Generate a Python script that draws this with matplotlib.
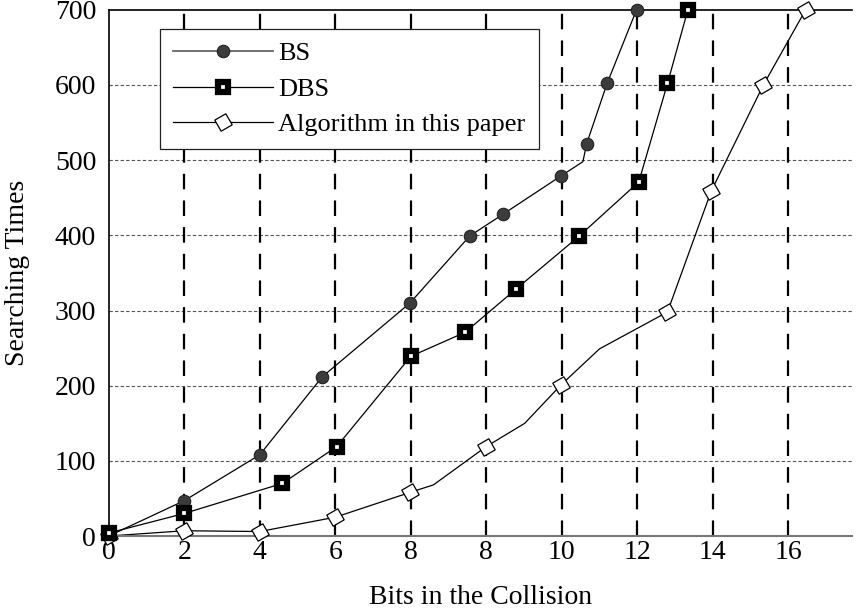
import matplotlib.pyplot as plt

plt.rcParams['font.family'] = ['Liberation Serif', 'DejaVu Serif']
plt.rcParams['font.size'] = 20

# x positions are tick slots (the paper's axis has two "8" ticks)
tick_labels = ['0', '2', '4', '6', '8', '8', '10', '12', '14', '16']

# BS: line vertices and marked points
bs_x = [0, 1.0, 2.0, 2.83, 3.99, 4.78, 5.22, 5.99, 6.28, 6.33, 6.60, 6.99]
bs_y = [0, 47, 108, 212, 310, 399, 428, 479, 498, 522, 602, 700]
bs_mx = [0, 1.0, 2.0, 2.83, 3.99, 4.78, 5.22, 5.99, 6.33, 6.60, 6.99]
bs_my = [4, 47, 108, 212, 310, 399, 428, 479, 522, 602, 700]

# DBS
dbs_x = [0, 1.0, 2.30, 3.02, 4.0, 4.72, 5.40, 6.23, 7.02, 7.40, 7.67]
dbs_y = [4, 30, 70, 119, 239, 271, 329, 399, 471, 602, 700]

# Algorithm in this paper
alg_x = [0, 1.0, 2.0, 3.0, 3.99, 4.30, 5.0, 5.51, 5.99, 6.50, 7.40, 7.98, 8.67, 9.23]
alg_y = [0, 7, 6, 25, 58, 68, 119, 150, 201, 249, 298, 459, 600, 700]
alg_mx = [0, 1.0, 2.0, 3.0, 3.99, 5.0, 5.99, 7.40, 7.98, 8.67, 9.23]
alg_my = [0, 7, 6, 25, 58, 119, 201, 298, 459, 600, 700]

fig = plt.figure(figsize=(8.56, 6.14), dpi=100)
ax = fig.add_axes([0.127, 0.127, 0.868, 0.857])

for y in range(100, 700, 100):
    ax.axhline(y, color='#555555', lw=0.8, ls=(0, (3, 2)), zorder=1)
for u in range(1, 10):
    ax.axvline(u, color='black', lw=1.6, ls=(0, (7, 5)), zorder=1)

sq = dict(marker='s', ms=7.5, mfc='white', mec='black', mew=4.5)
dia = dict(marker=(4, 0, 75), ms=13, mfc='white', mec='black', mew=0.9)
dot = dict(marker='o', ms=9, mfc='#3c3c3c', mec='#222222', mew=0.8)

ax.plot(bs_x, bs_y, color='black', lw=0.9, zorder=2)
ax.plot(bs_mx, bs_my, ls='none', clip_on=False, zorder=3, **dot)
ax.plot(dbs_x, dbs_y, color='black', lw=0.9, clip_on=False, zorder=4, **sq)
ax.plot(alg_x, alg_y, color='black', lw=0.9, zorder=2)
ax.plot(alg_mx, alg_my, ls='none', clip_on=False, zorder=3, **dia)

# legend proxies
h1, = ax.plot([], [], color='#666666', lw=1.3, **dot)
h2, = ax.plot([], [], color='black', lw=0.9, **sq)
h3, = ax.plot([], [], color='black', lw=0.9, **dia)
leg = ax.legend([h1, h2, h3], ['BS', 'DBS', 'Algorithm in this paper'],
                loc='upper left', bbox_to_anchor=(0.0686, 0.964), borderaxespad=0,
                fancybox=False, framealpha=1, edgecolor='#222222',
                handlelength=3.8, handletextpad=0.2, borderpad=0.5,
                labelspacing=0.45, fontsize=19)
leg.get_frame().set_linewidth(0.9)
leg.set_zorder(5)

ax.set_xlim(0, 9.84)
ax.set_ylim(0, 700)
ax.set_xticks(range(10))
ax.set_xticklabels(tick_labels)
ax.set_yticks(range(0, 701, 100))
ax.tick_params(axis='y', length=0, pad=9)
ax.tick_params(axis='x', length=0, pad=3)

ax.spines['right'].set_visible(False)
ax.spines['top'].set_linewidth(1.2)
ax.spines['left'].set_linewidth(1.2)
ax.spines['bottom'].set_color('#777777')
ax.spines['bottom'].set_linewidth(1.5)

ax.set_xlabel('Bits in the Collision', labelpad=14)
ax.set_ylabel('Searching Times', labelpad=18)

fig.savefig('out.png', dpi=100)
